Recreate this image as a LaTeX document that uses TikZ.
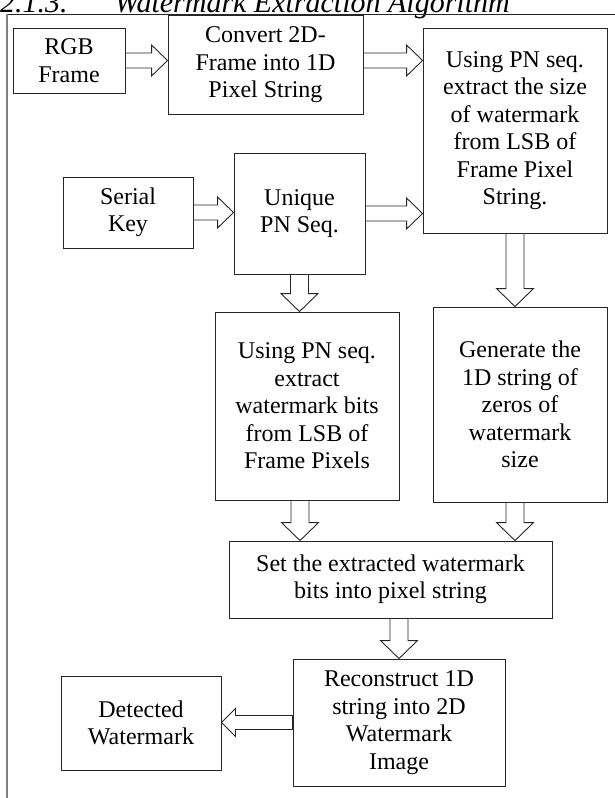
\documentclass[tikz,border=0pt]{standalone}
\usepackage{fontspec}
\setmainfont{Liberation Serif}
\usetikzlibrary{calc}
\tikzset{
  box/.style={draw=black!85, line width=0.9pt, rectangle, align=center, inner sep=0pt,
              font=\fontsize{24}{27.5}\selectfont},
  blk/.style={draw=black!85, line width=0.9pt, fill=white, line join=miter},
  ttl/.style={inner sep=0pt, font=\itshape\fontsize{30}{36}\selectfont},
}
\newcommand\blkR[2]{\draw[blk] let \p1=#1, \p2=#2 in
  (\x1,\y1+7.5pt) -- (\x2-16pt,\y1+7.5pt) -- (\x2-16pt,\y1+15.5pt) -- (\x2,\y1)
  -- (\x2-16pt,\y1-15.5pt) -- (\x2-16pt,\y1-7.5pt) -- (\x1,\y1-7.5pt) -- cycle;}
\newcommand\blkL[2]{\draw[blk] let \p1=#1, \p2=#2 in
  (\x1,\y1+7pt) -- (\x2+14pt,\y1+7pt) -- (\x2+14pt,\y1+14pt) -- (\x2,\y1)
  -- (\x2+14pt,\y1-14pt) -- (\x2+14pt,\y1-7pt) -- (\x1,\y1-7pt) -- cycle;}
\newcommand\blkD[2]{\draw[blk] let \p1=#1, \p2=#2 in
  (\x1+9pt,\y1) -- (\x1+9pt,\y2+18pt) -- (\x1+18.5pt,\y2+18pt) -- (\x1,\y2)
  -- (\x1-18.5pt,\y2+18pt) -- (\x1-9pt,\y2+18pt) -- (\x1-9pt,\y1) -- cycle;}
\begin{document}
\begin{tikzpicture}[x=1pt,y=-1pt]
\useasboundingbox (0,0) rectangle (615,798);
\clip (0,0) rectangle (615,798);
% heading (cut at top, as in the reference)
\node[ttl, anchor=base west] (tnum) at (0,12.5) {2.1.3.};
\node[ttl, anchor=base east] (ttext) at (510,12.5) {Watermark Extraction Algorithm};
% frame lines
\draw[black!85, line width=1pt] (7,14) -- (615,14);
\draw[black!50, line width=1.5pt] (7,14) -- (7,798);
% boxes
\node[box, minimum width=112, minimum height=65] (rgb) at (69,60.5) {RGB\\Frame};
\node[box, minimum width=195, minimum height=99] (conv) at (265.5,65) {Convert 2D-\\Frame into 1D\\Pixel String};
\node[box, minimum width=184, minimum height=205] (r1) at (515,130.5) {Using PN seq.\\extract the size\\of watermark\\from LSB of\\Frame Pixel\\String.};
\node[box, minimum width=130, minimum height=71] (serial) at (128,212.5) {Serial\\Key};
\node[box, minimum width=131, minimum height=121] (uniq) at (299.5,213.5) {Unique\\PN Seq.};
\node[box, minimum width=184, minimum height=188] (b3) at (307,406) {Using PN seq.\\extract\\watermark bits\\from LSB of\\Frame Pixels};
\node[box, minimum width=174, minimum height=195] (gen) at (520,404.5) {Generate the\\1D string of\\zeros of\\watermark\\size};
\node[box, minimum width=323, minimum height=77] (set) at (390.5,579.5) {Set the extracted watermark\\bits into pixel string};
\node[box, minimum width=212, minimum height=127] (rec) at (399,722.5) {Reconstruct 1D\\string into 2D\\Watermark\\Image};
\node[box, minimum width=160, minimum height=94] (det) at (141,723) {Detected\\Watermark};
% connector start points
\coordinate (a2s) at (conv.east |- rgb.east);
\coordinate (a7s) at ($(b3.south)+(-7,0)$);
\coordinate (a8s) at (r1.south |- gen.south);
\coordinate (a9s) at (rec.north |- set.south);
% block arrows
\blkR{(rgb.east)}{(conv.west)}
\blkR{(a2s)}{(r1.west)}
\blkR{(serial.east)}{(uniq.west)}
\blkR{(uniq.east)}{(r1.west)}
\blkD{(uniq.south)}{(b3.north)}
\blkD{(r1.south)}{(gen.north)}
\blkD{(a7s)}{(set.north)}
\blkD{(a8s)}{(set.north)}
\blkD{(a9s)}{(rec.north)}
\blkL{(rec.west)}{(det.east)}
\end{tikzpicture}
\end{document}
